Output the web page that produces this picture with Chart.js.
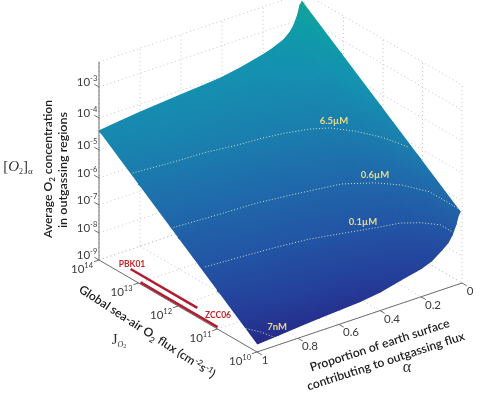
<!DOCTYPE html>
<html>
<head>
<meta charset="utf-8">
<title>O2 outgassing surface</title>
<script src="https://cdn.jsdelivr.net/npm/chart.js@4"></script>
<style>
  html, body { margin: 0; padding: 0; background: #fff; }
  canvas { display: block; }
</style>
</head>
<body>
<canvas id="surfaceChart" width="484" height="395"></canvas>
<script>
// Surface values: log10[O2] for each alpha, one list per J
const alphaValues = [1, 0.9, 0.8, 0.7, 0.6, 0.5, 0.4, 0.3, 0.2, 0.15, 0.1, 0.07, 0.05, 0.03, 0.02, 0.01];
const logJValues = [14, 13, 12, 11, 10];
const logO2AtJ14 = [-4.41, -4.33, -4.26, -4.20, -4.14, -4.09, -4.03, -3.91, -3.75, -3.64, -3.50, -3.33, -3.15, -2.83, -2.55, -2.42];
const logO2AtJ13 = [-5.40, -5.32, -5.24, -5.18, -5.12, -5.06, -4.98, -4.86, -4.71, -4.60, -4.43, -4.27, -4.09, -3.78, -3.53, -3.41];
const logO2AtJ12 = [-6.50, -6.43, -6.35, -6.28, -6.22, -6.17, -6.08, -5.92, -5.75, -5.62, -5.40, -5.22, -5.01, -4.70, -4.46, -4.35];
const logO2AtJ11 = [-7.60, -7.53, -7.46, -7.40, -7.35, -7.29, -7.21, -7.04, -6.86, -6.72, -6.47, -6.29, -6.06, -5.71, -5.44, -5.31];
const logO2AtJ10 = [-8.70, -8.64, -8.57, -8.51, -8.46, -8.41, -8.31, -8.12, -7.95, -7.81, -7.54, -7.36, -7.14, -6.78, -6.50, -6.38];
const surfaceRows = [logO2AtJ14, logO2AtJ13, logO2AtJ12, logO2AtJ11, logO2AtJ10];

// Contours on the surface
const contour65Alpha = [0.99, 0.82, 0.65, 0.52, 0.405, 0.31, 0.21, 0.14, 0.08, 0.03, 0.01, 0];
const contour65LogJ = [13.20, 13.13, 13.09, 13.0, 12.96, 12.89, 12.77, 12.61, 12.29, 11.88, 11.56, 11.35];
const contour06Alpha = [1, 0.8, 0.61, 0.43, 0.25, 0.14, 0.07, 0.02, 0.02, 0.02];
const contour06LogJ = [12.11, 12.05, 12.01, 11.89, 11.75, 11.47, 11.16, 10.72, 10.28, 10.0];
const contour01Alpha = [1, 0.855, 0.69, 0.53, 0.37, 0.25, 0.165, 0.10, 0.05, 0.05];
const contour01LogJ = [11.31, 11.26, 11.2, 11.11, 10.93, 10.79, 10.71, 10.53, 10.29, 10.0];
const contour7nAlpha = [1, 0.96, 0.91];
const contour7nLogJ = [10.36, 10.12, 10.0];
const contour7nLogO2 = [-8.41, -8.46, -8.70];
const logO2Of65uM = -5.19;
const logO2Of06uM = -6.22;
const logO2Of01uM = -7;

// Published flux ranges, drawn on the floor
const pbk01Alpha = [0.95, 0.95];
const pbk01LogJ = [13.46, 11.77];
const zcc06Alpha = [0.99, 0.99];
const zcc06LogJ = [13.0, 11.05];

// Axis ticks
const alphaTicks = [1, 0.8, 0.6, 0.4, 0.2, 0];
const alphaTickLabels = ["1", "0.8", "0.6", "0.4", "0.2", "0"];
const logJTicks = [14, 13, 12, 11, 10];
const logO2Ticks = [-9, -8, -7, -6, -5, -4, -3];
const logO2Top = -2.14;

// Colour against log10[O2]
const colourLogs = [-8.7, -8, -7, -6, -5, -4, -3, -2.4];
const colourStops = ["#252a8a", "#24409a", "#2256a6", "#1f6aab", "#1a7fae", "#1491b0", "#0e9da6", "#14a394"];

// Pixels per decade of the vertical axis, bottom to top
const decadeHeights = [27, 28, 27, 28, 32, 31, 29];

const heightOf = (logO2) => {
  let z = logO2 + 9;
  let h = 0;
  for (let i = 0; i < decadeHeights.length; i++) {
    const part = Math.min(Math.max(z, 0), 1);
    h += part * decadeHeights[i];
    z -= 1;
  }
  return h;
};

// Box projection: alpha runs along (205, -69), J along (158, 92)
const project = (alpha, logJ, logO2) => {
  const u = 1 - alpha;
  const v = (14 - logJ) / 4;
  return {
    x: 99 + 205 * u + 158 * v,
    y: 260 - 69 * u + 92 * v - heightOf(logO2),
  };
};

const hexToRgb = (hex) => [1, 3, 5].map((i) => parseInt(hex.slice(i, i + 2), 16));
const colourFor = (logO2) => {
  let i = 0;
  while (i < colourLogs.length - 2 && logO2 > colourLogs[i + 1]) i++;
  const t = Math.min(Math.max((logO2 - colourLogs[i]) / (colourLogs[i + 1] - colourLogs[i]), 0), 1);
  const a = hexToRgb(colourStops[i]);
  const b = hexToRgb(colourStops[i + 1]);
  return `rgb(${a.map((c, k) => Math.round(c + (b[k] - c) * t)).join(",")})`;
};

const canvas = document.getElementById("surfaceChart");
const ctx = canvas.getContext("2d");
const datasets = [];

const addLine = (data, style, order) => {
  datasets.push({
    data,
    showLine: true,
    pointRadius: 0,
    borderWidth: style.width || 1,
    borderColor: style.color,
    borderDash: style.dash || [],
    order,
  });
};

// Dotted grid on the floor and the two walls
const gridStyle = { color: "#c4c4c4", dash: [1, 3], width: 1 };
alphaTicks.forEach((a) => {
  addLine([project(a, 14, -9), project(a, 10, -9)], gridStyle, 9);
  addLine([project(a, 14, -9), project(a, 14, logO2Top)], gridStyle, 9);
});
logJTicks.forEach((j) => {
  addLine([project(1, j, -9), project(0, j, -9)], gridStyle, 9);
  addLine([project(0, j, -9), project(0, j, logO2Top)], gridStyle, 9);
});
logO2Ticks.concat([logO2Top]).forEach((z) => {
  addLine([project(1, 14, z), project(0, 14, z)], gridStyle, 9);
  addLine([project(0, 14, z), project(0, 10, z)], gridStyle, 9);
});

// Axis lines and tick marks
const axisStyle = { color: "#6e6e6e", width: 1 };
addLine([project(1, 14, -9), project(1, 14, logO2Top)], axisStyle, 8);
addLine([project(1, 14, -9), project(1, 10, -9)], axisStyle, 8);
addLine([project(1, 10, -9), project(0, 10, -9)], axisStyle, 8);
logO2Ticks.forEach((z) => addLine([project(1, 14, z), project(1, 14.12, z)], axisStyle, 8));
logJTicks.forEach((j) => addLine([project(1, j, -9), project(1.025, j, -9)], axisStyle, 8));
alphaTicks.forEach((a) => addLine([project(a, 10, -9), project(a, 9.88, -9)], axisStyle, 8));

// One flat triangle of the surface: a gradient along its slope keeps shared edges seamless
const addTriangle = (corners) => {
  const pts = corners.map((c) => project(c[0], c[1], c[2]));
  const zs = corners.map((c) => c[2]);
  const ax = pts[1].x - pts[0].x;
  const ay = pts[1].y - pts[0].y;
  const az = zs[1] - zs[0];
  const bx = pts[2].x - pts[0].x;
  const by = pts[2].y - pts[0].y;
  const bz = zs[2] - zs[0];
  const det = ax * by - ay * bx;
  const gx = (az * by - ay * bz) / det;
  const gy = (ax * bz - az * bx) / det;
  const g2 = gx * gx + gy * gy;
  const zLow = Math.min(...zs);
  const zHigh = Math.max(...zs);
  const low = pts[zs.indexOf(zLow)];
  const span = zHigh - zLow;
  const grad = ctx.createLinearGradient(low.x, low.y, low.x + (gx / g2) * span, low.y + (gy / g2) * span);
  [0, 0.25, 0.5, 0.75, 1].forEach((t) => grad.addColorStop(t, colourFor(zLow + span * t)));
  datasets.push({
    data: pts,
    showLine: true,
    pointRadius: 0,
    fill: "shape",
    backgroundColor: grad,
    borderColor: grad,
    borderWidth: 1.5,
    order: 5,
  });
};
const corner = (i, j) => [alphaValues[i], logJValues[j], surfaceRows[j][i]];
for (let j = 0; j < logJValues.length - 1; j++) {
  for (let i = 0; i < alphaValues.length - 1; i++) {
    addTriangle([corner(i, j), corner(i + 1, j), corner(i + 1, j + 1)]);
    addTriangle([corner(i, j), corner(i + 1, j + 1), corner(i, j + 1)]);
  }
}

// Contours
const contourStyle = { color: "#cfe0b8", dash: [1, 2], width: 1 };
addLine(contour65Alpha.map((a, i) => project(a, contour65LogJ[i], logO2Of65uM)), contourStyle, 3);
addLine(contour06Alpha.map((a, i) => project(a, contour06LogJ[i], logO2Of06uM)), contourStyle, 3);
addLine(contour01Alpha.map((a, i) => project(a, contour01LogJ[i], logO2Of01uM)), contourStyle, 3);
addLine(contour7nAlpha.map((a, i) => project(a, contour7nLogJ[i], contour7nLogO2[i])), contourStyle, 3);

// Flux ranges
const rangeStyle = { color: "#b01c30", width: 2.5 };
addLine(pbk01Alpha.map((a, i) => project(a, pbk01LogJ[i], -9)), rangeStyle, 2);
addLine(zcc06Alpha.map((a, i) => project(a, zcc06LogJ[i], -9)), rangeStyle, 2);

// Draws a row of text pieces with a shared baseline, centred on x, y; fit squeezes it to a width
const drawRuns = (c, runs, x, y, angle, fit) => {
  c.save();
  c.translate(x, y);
  c.rotate((angle * Math.PI) / 180);
  c.textAlign = "left";
  c.textBaseline = "alphabetic";
  let total = 0;
  runs.forEach((r) => {
    c.font = r.font;
    total += c.measureText(r.text).width;
  });
  if (fit) c.scale(fit / total, 1);
  let pos = -total / 2;
  runs.forEach((r) => {
    c.font = r.font;
    c.fillStyle = r.color;
    c.fillText(r.text, pos, r.shift || 0);
    pos += c.measureText(r.text).width;
  });
  c.restore();
};

const titleFont = "600 12px Lato";
const titleSmall = "600 8px Lato";
const titleColor = "#1c1c1c";
const tickColor = "#3a3a3a";
const serif = "Liberation Serif";

const textPlugin = {
  id: "surfaceText",
  afterDatasetsDraw(chart) {
    const c = chart.ctx;
    const sx = chart.scales.x;
    const sy = chart.scales.y;
    const at = (p, dx, dy) => [sx.getPixelForValue(p.x) + dx, sy.getPixelForValue(p.y) + dy];
    const power = (exp, p, dx, dy) => {
      const [x, y] = at(p, dx, dy);
      drawRuns(c, [
        { text: "10", font: "11.5px Lato", color: tickColor },
        { text: String(exp), font: "7.5px Lato", color: tickColor, shift: -5 },
      ], x, y, 0);
    };

    logO2Ticks.forEach((z) => power(z, project(1, 14, z), -12, -1));
    logJTicks.forEach((j) => power(j, project(1, j, -9), -17, 13));
    alphaTicks.forEach((a, i) => {
      const [x, y] = at(project(a, 10, -9), alphaTickLabels[i].length > 1 ? 12 : 8, 12);
      drawRuns(c, [{ text: alphaTickLabels[i], font: "11.5px Lato", color: tickColor }], x, y, 0);
    });

    drawRuns(c, [
      { text: "Average O", font: titleFont, color: titleColor },
      { text: "2", font: titleSmall, color: titleColor, shift: 3 },
      { text: " concentration", font: titleFont, color: titleColor },
    ], 52, 169, -90, 138);
    drawRuns(c, [{ text: "in outgassing regions", font: titleFont, color: titleColor }], 67, 170, -90, 116);
    drawRuns(c, [
      { text: "Global sea-air O", font: titleFont, color: titleColor },
      { text: "2", font: titleSmall, color: titleColor, shift: 3 },
      { text: " flux (cm", font: titleFont, color: titleColor },
      { text: "-2", font: titleSmall, color: titleColor, shift: -4 },
      { text: "s", font: titleFont, color: titleColor },
      { text: "-1", font: titleSmall, color: titleColor, shift: -4 },
      { text: ")", font: titleFont, color: titleColor },
    ], 145, 335, 33, 160);
    drawRuns(c, [{ text: "Proportion of earth surface", font: titleFont, color: titleColor }], 381, 349, -18, 146);
    drawRuns(c, [{ text: "contributing to outgassing flux", font: titleFont, color: titleColor }], 387, 365, -18, 165);

    drawRuns(c, [
      { text: "[", font: `15px ${serif}`, color: "#333" },
      { text: "O", font: `italic 15px ${serif}`, color: "#333" },
      { text: "2", font: `8px ${serif}`, color: "#333", shift: 3 },
      { text: "]", font: `15px ${serif}`, color: "#333" },
      { text: "α", font: `9px ${serif}`, color: "#333", shift: 3 },
    ], 18, 171, 0);
    drawRuns(c, [
      { text: "J", font: `15px ${serif}`, color: "#333" },
      { text: "O", font: `italic 8px ${serif}`, color: "#333", shift: 3 },
      { text: "2", font: `6px ${serif}`, color: "#333", shift: 4 },
    ], 119, 344, 0);
    drawRuns(c, [{ text: "α", font: `16px ${serif}`, color: "#333" }], 407, 372, 0);

    const yellow = "#e6dc8c";
    const markFont = "700 9.5px Lato";
    drawRuns(c, [{ text: "6.5µM", font: markFont, color: yellow }], 334, 124, 0);
    drawRuns(c, [{ text: "0.6µM", font: markFont, color: yellow }], 375, 178, 0);
    drawRuns(c, [{ text: "0.1µM", font: markFont, color: yellow }], 363, 225, 0);
    drawRuns(c, [{ text: "7nM", font: markFont, color: yellow }], 277, 330, 0);
    const red = "#c0272d";
    drawRuns(c, [{ text: "PBK01", font: "700 8.5px Lato", color: red }], 132, 267, 0);
    drawRuns(c, [{ text: "ZCC06", font: "700 8.5px Lato", color: red }], 218, 318, 0);
  },
};

const surfaceChart = new Chart(canvas, {
  type: "scatter",
  data: { datasets },
  options: {
    responsive: false,
    animation: false,
    events: [],
    layout: { padding: 0 },
    plugins: { legend: { display: false }, tooltip: { enabled: false } },
    elements: { line: { tension: 0 } },
    scales: {
      x: { type: "linear", min: 0, max: 484, display: false },
      y: { type: "linear", min: 0, max: 395, reverse: true, display: false },
    },
  },
  plugins: [textPlugin],
});
</script>
</body>
</html>
